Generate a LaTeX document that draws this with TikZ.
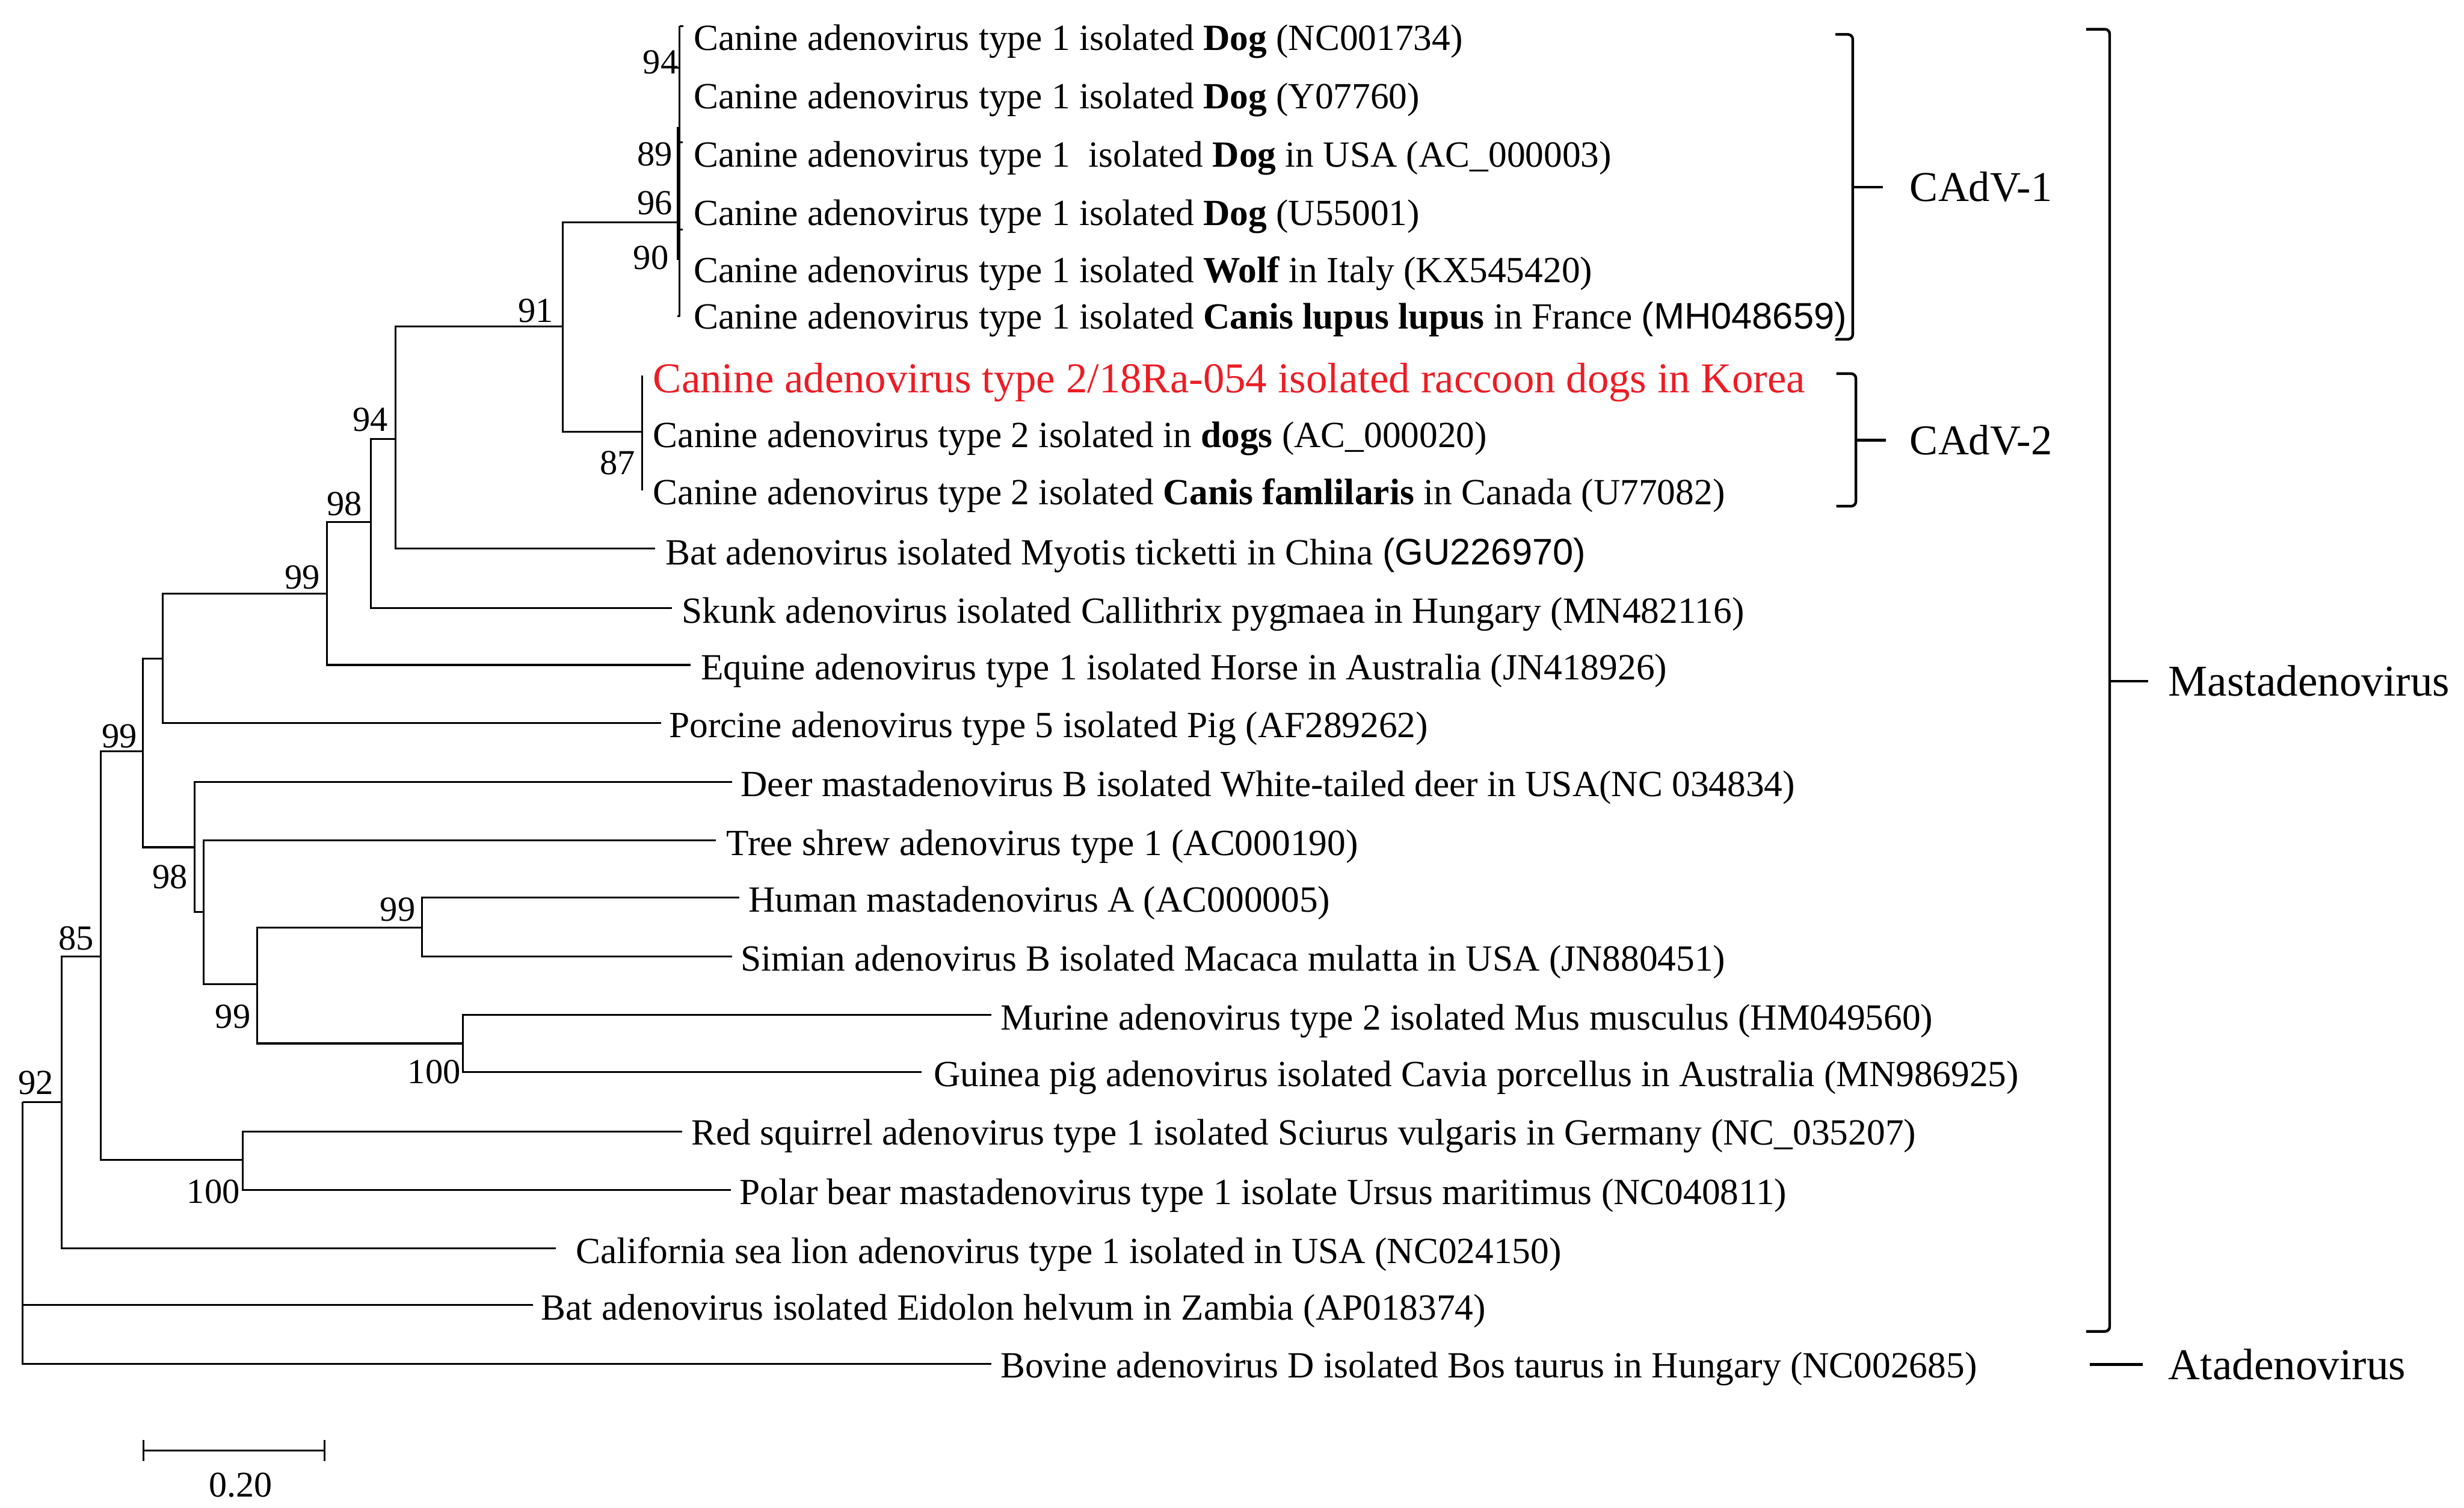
\documentclass[tikz,border=0pt]{standalone}
\usepackage{fontspec}
\setmainfont{Liberation Serif}
\newfontfamily\arialf{Liberation Sans}
\definecolor{hlred}{RGB}{237,28,36}
\newcommand{\leaffont}{\fontsize{11.75}{14}\selectfont}
\newcommand{\bsfont}{\fontsize{11.2}{13}\selectfont}
\begin{document}
\begin{tikzpicture}[x=0.5pt,y=-0.5pt,
  tree/.style={line width=0.6pt},
  brk/.style={line width=0.85pt, rounded corners=1.5pt},
  leaf/.style={anchor=base west, inner sep=0pt, font=\leaffont},
  bs/.style={anchor=east, inner sep=0pt, font=\bsfont},
  grp/.style={anchor=west, inner sep=0pt, font=\fontsize{13.5}{16}\selectfont},
  genus/.style={anchor=west, inner sep=0pt, font=\fontsize{14}{17}\selectfont}]
\useasboundingbox (0,0) rectangle (1568,959.3);

% ---------- tree node coordinates ----------
\coordinate (root)  at (14.5,701);
\coordinate (n92)   at (39.4,701);
\coordinate (n85)   at (64,608.4);
\coordinate (n100r) at (154.4,737.8);
\coordinate (n99a)  at (91,478);
\coordinate (nY)    at (103.6,419);
\coordinate (n99b)  at (208,377.7);
\coordinate (n98a)  at (236,332);
\coordinate (n94a)  at (251.7,279.3);
\coordinate (n91)   at (358,207.6);
\coordinate (c1)    at (432.5,141.3);
\coordinate (c2)    at (408.8,274.5);
\coordinate (n98b)  at (124,539);
\coordinate (nX)    at (129.7,580);
\coordinate (n99c)  at (163.8,626);
\coordinate (n99d)  at (268.7,590);
\coordinate (n100m) at (294.5,663.8);

% ---------- tip coordinates ----------
\coordinate (tBov) at (630.7,867.6);
\coordinate (tEid) at (339,830);
\coordinate (tCal) at (353.6,794);
\coordinate (tRS)  at (434,719.7);
\coordinate (tPB)  at (465,757);
\coordinate (tPor) at (420.7,460);
\coordinate (tEqu) at (439.5,423);
\coordinate (tSku) at (427.6,386.8);
\coordinate (tBat) at (417,349);
\coordinate (tDeer) at (466,497.3);
\coordinate (tTree) at (455.4,534.6);
\coordinate (tHum) at (470.4,571);
\coordinate (tSim) at (466,608.4);
\coordinate (tMur) at (630.8,645.7);
\coordinate (tGui) at (586.4,682);
\coordinate (c2t)  at (408.8,238.7);
\coordinate (c2b)  at (408.8,312);
\coordinate (c1t)  at (432.5,16.6);
\coordinate (c1b)  at (432.5,201.3);
\coordinate (c1k1) at (431.7,80.9);
\coordinate (c1k2) at (431.7,165.3);

% ---------- branches ----------
\draw[tree] (root) |- (n92) (root) |- (tEid) (root) |- (tBov)
  (n92) |- (n85) (n92) |- (tCal)
  (n85) |- (n99a) (n85) |- (n100r)
  (n100r) |- (tRS) (n100r) |- (tPB)
  (n99a) |- (nY) (n99a) |- (n98b)
  (nY) |- (n99b) (nY) |- (tPor)
  (n99b) |- (n98a) (n99b) |- (tEqu)
  (n98a) |- (n94a) (n98a) |- (tSku)
  (n94a) |- (n91) (n94a) |- (tBat)
  (n91) |- (c1) (n91) |- (c2)
  (c2) -- (c2t) (c2) -- (c2b)
  (n98b) |- (tDeer) (n98b) |- (nX)
  (nX) |- (tTree) (nX) |- (n99c)
  (n99c) |- (n99d) (n99c) |- (n100m)
  (n99d) |- (tHum) (n99d) |- (tSim)
  (n100m) |- (tMur) (n100m) |- (tGui);
% CAdV-1 clade (near-zero branch lengths)
\draw[tree] (c1t) -- (c1b);
\draw[line width=1.1pt] (c1k1) -- (c1k2);
\draw[tree] (c1t) -- ++(2.5,0);
\draw[tree] (432.5,42.9) -- ++(-3.5,0);
\draw[tree] (432.5,90.6) -- ++(2,0);
\draw[tree] (432.5,146) -- ++(2,0);
\draw[tree] (c1b) -- ++(-1.5,0);

% ---------- leaf labels ----------
\node[leaf] (L1) at (441,31.8) {Canine adenovirus type 1 isolated \textbf{Dog} (NC001734)};
\node[leaf] (L2) at (441,69) {Canine adenovirus type 1 isolated \textbf{Dog} (Y07760)};
\node[leaf] (L3) at (441,106.2) {Canine adenovirus type 1\ \ isolated \textbf{Dog} in USA (AC\_000003)};
\node[leaf] (L4) at (441,143.5) {Canine adenovirus type 1 isolated \textbf{Dog} (U55001)};
\node[leaf] (L5) at (441,179.6) {Canine adenovirus type 1 isolated \textbf{Wolf} in Italy (KX545420)};
\node[leaf] (L6) at (441,209.2) {Canine adenovirus type 1 isolated \textbf{Canis lupus lupus} in France {\arialf (MH048659)}};
\node[leaf, font=\fontsize{13.55}{16}\selectfont, text=hlred] (L7) at (415.3,249.7) {Canine adenovirus type 2/18Ra-054 isolated raccoon dogs in Korea};
\node[leaf] (L8) at (415.3,284.8) {Canine adenovirus type 2 isolated in \textbf{dogs} (AC\_000020)};
\node[leaf] (L9) at (415.3,320.9) {Canine adenovirus type 2 isolated \textbf{Canis famlilaris} in Canada (U77082)};
\node[leaf] (L10) at (423.1,359.2) {Bat adenovirus isolated Myotis ticketti in China {\arialf (GU226970)}};
\node[leaf] (L11) at (433.6,396.3) {Skunk adenovirus isolated Callithrix pygmaea in Hungary (MN482116)};
\node[leaf] (L12) at (445.6,432.3) {Equine adenovirus type 1 isolated Horse in Australia (JN418926)};
\node[leaf] (L13) at (425.4,469.2) {Porcine adenovirus type 5 isolated Pig (AF289262)};
\node[leaf] (L14) at (471,506.6) {Deer mastadenovirus B isolated White-tailed deer in USA(NC 034834)};
\node[leaf] (L15) at (462,544.1) {Tree shrew adenovirus type 1 (AC000190)};
\node[leaf] (L16) at (476,580) {Human mastadenovirus A (AC000005)};
\node[leaf] (L17) at (471,617.5) {Simian adenovirus B isolated Macaca mulatta in USA (JN880451)};
\node[leaf] (L18) at (636.4,655) {Murine adenovirus type 2 isolated Mus musculus (HM049560)};
\node[leaf] (L19) at (593.8,691) {Guinea pig adenovirus isolated Cavia porcellus in Australia (MN986925)};
\node[leaf] (L20) at (439.6,728.4) {Red squirrel adenovirus type 1 isolated Sciurus vulgaris in Germany (NC\_035207)};
\node[leaf] (L21) at (470.4,766) {Polar bear mastadenovirus type 1 isolate Ursus maritimus (NC040811)};
\node[leaf] (L22) at (366,803.8) {California sea lion adenovirus type 1 isolated in USA (NC024150)};
\node[leaf] (L23) at (344,839.8) {Bat adenovirus isolated Eidolon helvum in Zambia (AP018374)};
\node[leaf] (L24) at (636.3,876.5) {Bovine adenovirus D isolated Bos taurus in Hungary (NC002685)};

% ---------- bootstrap values ----------
\node[bs] (b1) at (432,39.4) {94};
\node[bs] (b2) at (428.3,98.2) {89};
\node[bs] (b3) at (428.3,129.3) {96};
\node[bs] (b4) at (425.8,163.9) {90};
\node[bs] (b5) at (352.6,197.6) {91};
\node[bs] (b6) at (404.5,294.5) {87};
\node[bs] (b7) at (247.3,267) {94};
\node[bs] (b8) at (230.7,320.4) {98};
\node[bs] (b9) at (203.9,367.4) {99};
\node[bs] (b10) at (87.6,468.2) {99};
\node[bs] (b11) at (119.7,558) {98};
\node[bs] (b12) at (264.7,578.4) {99};
\node[bs] (b13) at (159.8,646.6) {99};
\node[bs] (b14) at (60.2,597) {85};
\node[bs] (b15) at (293.5,682) {100};
\node[bs] (b16) at (34.4,689) {92};
\node[bs] (b17) at (153,758) {100};

% ---------- group brackets ----------
\coordinate (k1a) at (1168,21.9);
\coordinate (k1b) at (1179,21.9);
\coordinate (k1c) at (1179,215.8);
\coordinate (k1d) at (1168,215.8);
\coordinate (k1m) at (1179,119);
\draw[brk] (k1a) -- (k1b) -- (k1c) -- (k1d);
\node[grp] (G1) at (1215,119) {CAdV-1};
\draw[brk] (k1m) -- (G1.west -| 1198,0);

\coordinate (k2a) at (1168.6,237.7);
\coordinate (k2b) at (1181,237.7);
\coordinate (k2c) at (1181,322);
\coordinate (k2d) at (1168.6,322);
\coordinate (k2m) at (1181,280);
\draw[brk] (k2a) -- (k2b) -- (k2c) -- (k2d);
\node[grp] (G2) at (1215,280) {CAdV-2};
\draw[brk] (k2m) -- (G2.west -| 1200,0);

\coordinate (k3a) at (1327.5,18.6);
\coordinate (k3b) at (1342.5,18.6);
\coordinate (k3c) at (1342.5,847);
\coordinate (k3d) at (1327.5,847);
\coordinate (k3m) at (1342.5,433.3);
\draw[brk] (k3a) -- (k3b) -- (k3c) -- (k3d);
\node[genus] (G3) at (1379.6,433.3) {Mastadenovirus};
\draw[brk] (k3m) -- (G3.west -| 1367,0);

\node[genus] (G4) at (1379.6,868) {Atadenovirus};
\coordinate (k4a) at (1329.7,868);
\draw[brk] (k4a) -- (G4.west -| 1363.7,0);

% ---------- scale bar ----------
\coordinate (s1) at (91.3,922.8);
\coordinate (s2) at (206.6,922.8);
\draw[tree] (s1) -- (s2);
\draw[tree] (s1) ++(0,-6.8) -- ++(0,13.6);
\draw[tree] (s2) ++(0,-6.8) -- ++(0,13.6);
\node[inner sep=0pt, font=\fontsize{11.5}{13}\selectfont] (sc) at (153,944.6) {0.20};
\end{tikzpicture}
\end{document}
